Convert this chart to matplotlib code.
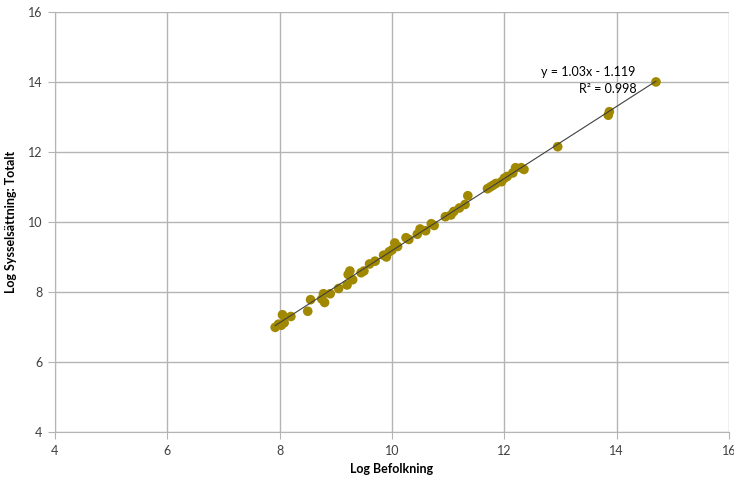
import numpy as np
import matplotlib.pyplot as plt

# log population vs log employment
log_pop = [7.92, 7.98, 8.03, 8.05, 8.08, 8.20, 8.50, 8.55, 8.75, 8.78, 8.80, 8.90,
           9.05, 9.20, 9.22, 9.25, 9.30, 9.45, 9.50, 9.60, 9.70, 9.85, 9.90, 9.95,
           10.00, 10.05, 10.10, 10.25, 10.30, 10.45, 10.50, 10.60, 10.70, 10.75,
           10.95, 11.05, 11.10, 11.20, 11.30, 11.35, 11.70, 11.75, 11.80, 11.85,
           11.95, 12.00, 12.05, 12.15, 12.20, 12.30, 12.35, 12.95, 13.85, 13.87, 14.70]
log_emp = [6.99, 7.08, 7.05, 7.35, 7.12, 7.30, 7.45, 7.78, 7.80, 7.95, 7.70, 7.95,
           8.10, 8.20, 8.50, 8.60, 8.35, 8.55, 8.60, 8.80, 8.88, 9.05, 9.00, 9.15,
           9.20, 9.40, 9.30, 9.55, 9.50, 9.65, 9.80, 9.75, 9.95, 9.90,
           10.15, 10.20, 10.30, 10.40, 10.50, 10.75, 10.95, 11.00, 11.05, 11.10,
           11.15, 11.25, 11.30, 11.40, 11.55, 11.55, 11.50, 12.15, 13.05, 13.15, 14.00]
slope = 1.03
intercept = -1.119
r2 = 0.998

plt.rcParams['font.family'] = ['Lato', 'DejaVu Sans']

W, H = 734, 479
fig = plt.figure(figsize=(W / 100, H / 100), dpi=100)
ax = fig.add_axes([0.0749, 0.0981, 0.9183, 0.877])

ax.scatter(log_pop, log_emp, s=48, color='#a08800', edgecolors='none', zorder=3)

xs = np.array([min(log_pop), max(log_pop)])
ax.plot(xs, slope * xs + intercept, color='#404040', lw=0.8, zorder=4)

# equation label placed in figure pixels (from top-left)
fig.text(588 / W, 1 - 72 / H, 'y = 1.03x - 1.119', fontsize=9, ha='center', va='center')
fig.text(608 / W, 1 - 89 / H, 'R² = %.3f' % r2, fontsize=9, ha='center', va='center')

ax.set_xlim(4, 16)
ax.set_ylim(4, 16)
ax.set_xticks(range(4, 17, 2))
ax.set_yticks(range(4, 17, 2))
ax.grid(True, color='#b4b4b4', lw=1)
ax.set_axisbelow(True)
for s in ['top', 'right']:
    ax.spines[s].set_visible(False)
for s in ['left', 'bottom']:
    ax.spines[s].set_color('#b4b4b4')
ax.tick_params(length=5, color='#b4b4b4', labelsize=9, labelcolor='#404040', pad=4)

ax.set_xlabel('Log Befolkning', fontsize=9, fontweight='bold', labelpad=5)
ax.set_ylabel('Log Sysselsättning: Totalt', fontsize=9, fontweight='bold', labelpad=8)

fig.savefig('out.png', dpi=100)
